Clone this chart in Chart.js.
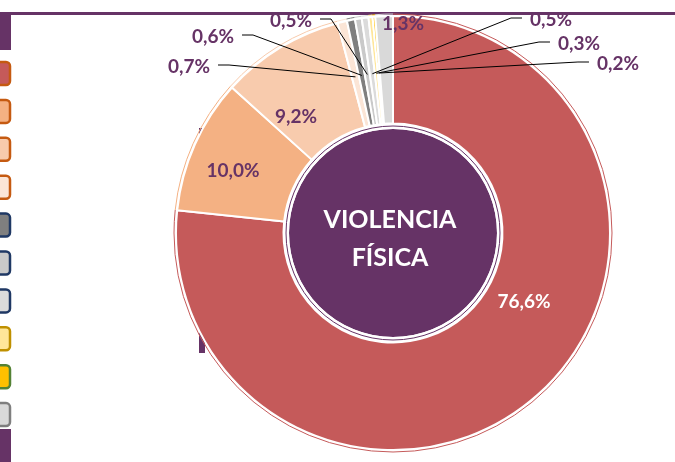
<!DOCTYPE html>
<html>
<head>
<meta charset="utf-8">
<script src="https://cdn.jsdelivr.net/npm/chart.js@4.4.0/dist/chart.umd.min.js"></script>
<style>
  html, body { margin: 0; padding: 0; background: #fff; overflow: hidden; }
  #wrap { position: relative; width: 675px; height: 462px; }
</style>
</head>
<body>
<div id="wrap"><canvas id="chart" width="675" height="462"></canvas></div>
<script>
'use strict';

// data
const categories = ['Tipo 1', 'Tipo 2', 'Tipo 3', 'Tipo 4', 'Tipo 5', 'Tipo 6', 'Tipo 7', 'Tipo 8', 'Tipo 9', 'Tipo 10'];
const values = [76.6, 10.0, 9.2, 0.7, 0.6, 0.5, 0.5, 0.3, 0.2, 1.3];
const sliceColors = ['#C55A5A', '#F4B183', '#F8CBAD', '#FBE5D6', '#7F7F7F', '#C9C9C9', '#DBDBDB', '#FFE699', '#FFC000', '#D9D9D9'];
const legendBorders = ['#C55A11', '#C55A11', '#C55A11', '#C55A11', '#1F3864', '#1F3864', '#1F3864', '#BF9000', '#548235', '#7F7F7F'];
const centerTitle = ['VIOLENCIA', 'FÍSICA'];

// layout of the labels, offsets from the chart centre
const insideLabels = [
    { i: 0, dx: 131, dy: 69, color: '#FFFFFF' },
    { i: 1, dx: -160, dy: -62, color: '#663366' },
    { i: 2, dx: -97, dy: -116, color: '#663366' },
    { i: 9, dx: 10, dy: -209, color: '#663366' }
];
const calloutLabels = [
    { i: 3, dx: -204, dy: -166, side: 'left' },
    { i: 4, dx: -180, dy: -196, side: 'left' },
    { i: 5, dx: -102, dy: -212, side: 'left' },
    { i: 6, dx: 158, dy: -213, side: 'right' },
    { i: 7, dx: 186, dy: -189, side: 'right' },
    { i: 8, dx: 225, dy: -169, side: 'right' }
];

const PURPLE = '#663366';
const LABEL_FONT = 'bold 19px Lato, "Open Sans", sans-serif';

function fmt(v) {
    return v.toFixed(1).replace('.', ',') + '%';
}

const framePlugin = {
    id: 'frame',
    beforeDatasetsDraw(chart) {
        const ctx = chart.ctx;
        ctx.save();
        ctx.fillStyle = PURPLE;
        ctx.fillRect(10, 12, 665, 3);
        ctx.fillRect(0, 12, 11, 38);
        ctx.fillRect(0, 429, 11, 33);
        ctx.fillRect(199, 128, 6, 225);
        ctx.restore();
    },
    afterDraw(chart) {
        const ctx = chart.ctx;
        ctx.save();
        ctx.lineWidth = 2.5;
        values.forEach((v, i) => {
            const cy = 73.5 + i * 37.9;
            ctx.beginPath();
            ctx.roundRect(-12, cy - 11.5, 22, 23, 4);
            ctx.fillStyle = sliceColors[i];
            ctx.fill();
            ctx.strokeStyle = legendBorders[i];
            ctx.stroke();
        });
        ctx.restore();
    }
};

const decorPlugin = {
    id: 'decor',
    afterDatasetsDraw(chart) {
        const ctx = chart.ctx;
        const arcs = chart.getDatasetMeta(0).data;
        const cx = arcs[0].x;
        const cy = arcs[0].y;
        ctx.save();

        // thin coloured rim outside the white border
        ctx.lineWidth = 1;
        arcs.forEach((arc, i) => {
            ctx.beginPath();
            ctx.arc(cx, cy, arc.outerRadius + 2, arc.startAngle, arc.endAngle);
            ctx.strokeStyle = sliceColors[i];
            ctx.stroke();
        });

        // centre disc
        ctx.beginPath();
        ctx.arc(cx, cy, 104, 0, Math.PI * 2);
        ctx.fillStyle = PURPLE;
        ctx.fill();
        ctx.lineWidth = 2;
        ctx.strokeStyle = '#FFFFFF';
        ctx.beginPath();
        ctx.arc(cx, cy, 105, 0, Math.PI * 2);
        ctx.stroke();
        ctx.lineWidth = 1;
        ctx.strokeStyle = PURPLE;
        ctx.beginPath();
        ctx.arc(cx, cy, 107, 0, Math.PI * 2);
        ctx.stroke();

        ctx.fillStyle = '#FFFFFF';
        ctx.font = 'bold 25px Lato, "Open Sans", sans-serif';
        ctx.textAlign = 'center';
        ctx.textBaseline = 'middle';
        ctx.fillText(centerTitle[0], cx - 3, cy - 13);
        ctx.fillText(centerTitle[1], cx - 3, cy + 25);

        // labels inside the slices
        ctx.font = LABEL_FONT;
        insideLabels.forEach(l => {
            ctx.fillStyle = l.color;
            ctx.fillText(fmt(values[l.i]), cx + l.dx, cy + l.dy);
        });

        // callouts for the thin slices
        calloutLabels.forEach(l => {
            const arc = arcs[l.i];
            const mid = (arc.startAngle + arc.endAngle) / 2;
            const r = arc.outerRadius * 0.74;
            const ax = cx + Math.cos(mid) * r;
            const ay = cy + Math.sin(mid) * r;
            const text = fmt(values[l.i]);
            const tx = cx + l.dx;
            const ty = cy + l.dy;
            const w = ctx.measureText(text).width;
            const dir = l.side === 'left' ? 1 : -1;
            const sx = tx + dir * (w / 2 + 8);
            const ly = ty - 2;
            ctx.strokeStyle = '#000000';
            ctx.lineWidth = 1;
            ctx.beginPath();
            ctx.moveTo(sx, ly);
            ctx.lineTo(sx + dir * 11, ly);
            ctx.lineTo(ax, ay);
            ctx.stroke();
            ctx.fillStyle = PURPLE;
            ctx.fillText(text, tx, ty);
        });

        ctx.restore();
    }
};

new Chart(document.getElementById('chart'), {
    type: 'doughnut',
    data: {
        labels: categories,
        datasets: [{
            data: values,
            backgroundColor: sliceColors,
            borderColor: '#FFFFFF',
            borderWidth: 2,
            radius: 217,
            cutout: 110
        }]
    },
    options: {
        responsive: false,
        animation: false,
        layout: { padding: { left: 174, right: 63, top: 14, bottom: 10 } },
        plugins: {
            legend: { display: false },
            tooltip: { enabled: false }
        }
    },
    plugins: [framePlugin, decorPlugin]
});
</script>
</body>
</html>
